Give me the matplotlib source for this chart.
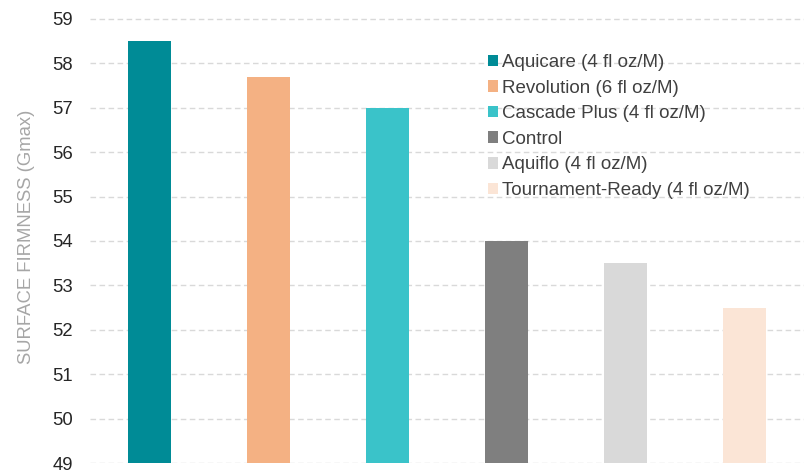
import matplotlib
matplotlib.use("Agg")
import matplotlib.pyplot as plt
from matplotlib.patches import Patch

plt.rcParams['font.family'] = ['Liberation Sans', 'DejaVu Sans']

categories = ["Aquicare (4 fl oz/M)", "Revolution (6 fl oz/M)", "Cascade Plus (4 fl oz/M)",
              "Control", "Aquiflo (4 fl oz/M)", "Tournament-Ready (4 fl oz/M)"]
values = [58.5, 57.7, 57.0, 54.0, 53.5, 52.5]
colors = ["#008B96", "#F4B183", "#3AC3C9", "#7F7F7F", "#D9D9D9", "#FBE5D6"]
yticks = list(range(49, 60))

fig = plt.figure(figsize=(8.06, 4.73), dpi=100)
ax = fig.add_axes([90/806, 10/473, 714/806, 453/473])

x = list(range(len(categories)))
ax.bar(x, [v - 49 for v in values], bottom=49, width=0.36, color=colors, zorder=3)
ax.set_xlim(-0.5, len(categories) - 0.5)
ax.set_ylim(49, 59.2)
ax.set_yticks(yticks)
ax.set_yticklabels([str(t) for t in yticks], fontsize=13.3, color="#262626")
ax.set_xticks([])
ax.tick_params(axis='y', length=0, pad=12.5)
for s in ax.spines.values():
    s.set_visible(False)
ax.grid(axis='y', color="#D9D9D9", linestyle=(0, (4, 2.5)), linewidth=1.0, zorder=0)
ax.set_ylabel("SURFACE FIRMNESS (Gmax)", fontsize=13.3, color="#A6A6A6", labelpad=12)

handles = [Patch(facecolor=c, edgecolor='none') for c in colors]
leg = ax.legend(handles, categories, loc='upper left', bbox_to_anchor=(0.557, 0.903),
                frameon=False, fontsize=13.5, handlelength=0.57, handleheight=0.57,
                handletextpad=0.18, labelspacing=0.46, borderaxespad=0, borderpad=0)
for t in leg.get_texts():
    t.set_color("#404040")

fig.savefig("out.png", dpi=100)
